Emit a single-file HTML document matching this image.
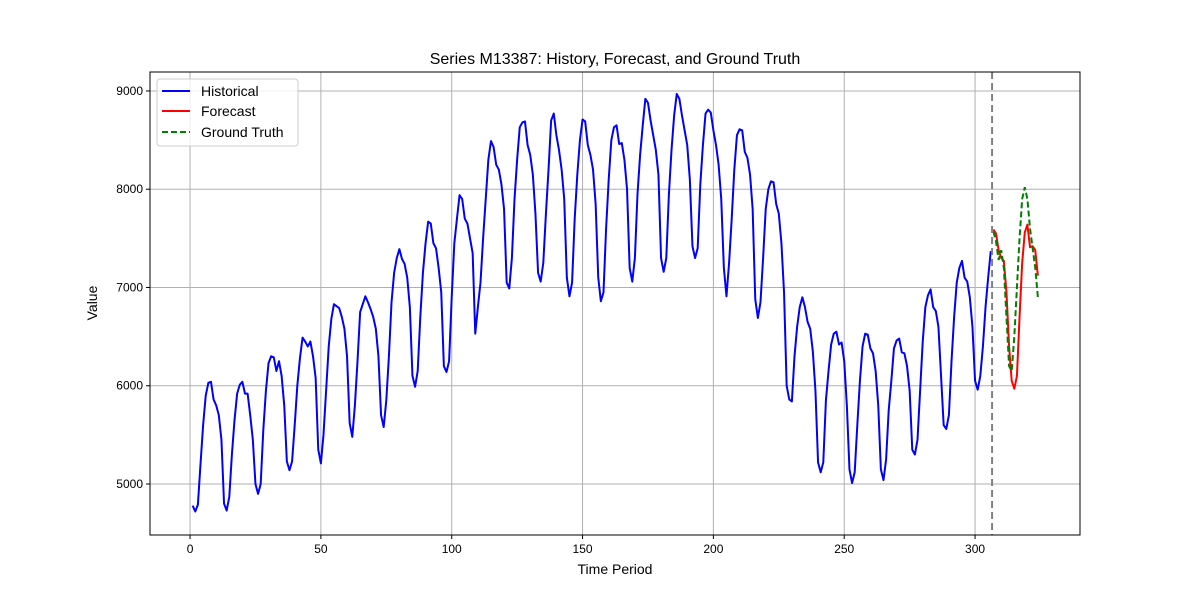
<!DOCTYPE html>
<html><head><meta charset="utf-8"><style>
html,body{margin:0;padding:0;background:#fff}
svg{display:block;font-family:"Liberation Sans","DejaVu Sans",sans-serif}
</style></head><body>
<svg id="chart" width="1200" height="600" viewBox="0 0 1200 600">
<rect width="1200" height="600" fill="#fff"/>
<g id="grid"></g>
<g id="series"></g>
<rect x="150" y="72" width="930" height="463" fill="none" stroke="#000" stroke-width="1"/>
<g id="ticks"></g>
<text x="615" y="64" text-anchor="middle" font-size="16">Series M13387: History, Forecast, and Ground Truth</text>
<text x="615" y="574" text-anchor="middle" font-size="14">Time Period</text>
<text x="97" y="303" text-anchor="middle" font-size="14" transform="rotate(-90 97 303)">Value</text>
<g>
<rect x="157" y="79" width="141" height="67" rx="3" fill="#fff" fill-opacity="0.8" stroke="#ccc"/>
<line x1="162" y1="91" x2="190" y2="91" stroke="#0000ff" stroke-width="2"/>
<text x="201" y="96" font-size="14">Historical</text>
<line x1="162" y1="111" x2="190" y2="111" stroke="#ff0000" stroke-width="2"/>
<text x="201" y="116" font-size="14">Forecast</text>
<line x1="162" y1="132" x2="190" y2="132" stroke="#008000" stroke-width="2" stroke-dasharray="6,3"/>
<text x="201" y="137" font-size="14">Ground Truth</text>
</g>
</svg>
<script>
const historical = [4780,4720,4790,5200,5600,5900,6030,6040,5860,5800,5700,5450,4800,4730,4870,5300,5650,5920,6010,6040,5920,5920,5700,5450,5000,4900,5000,5550,5950,6230,6300,6290,6150,6250,6100,5800,5230,5140,5230,5600,6000,6280,6490,6450,6400,6450,6300,6080,5350,5210,5500,5950,6400,6680,6830,6810,6790,6700,6580,6300,5620,5480,5800,6250,6750,6830,6910,6850,6780,6700,6580,6300,5700,5580,5850,6300,6850,7150,7300,7390,7290,7240,7100,6800,6100,5990,6150,6700,7150,7450,7670,7650,7450,7400,7200,6950,6200,6140,6250,6900,7450,7700,7940,7900,7700,7650,7500,7350,6530,6800,7050,7500,7900,8300,8490,8430,8250,8200,8050,7800,7050,6990,7300,7900,8300,8630,8680,8690,8450,8350,8150,7750,7150,7060,7250,7750,8200,8700,8770,8550,8400,8200,7900,7100,6910,7050,7700,8150,8500,8710,8690,8450,8350,8200,7850,7100,6860,6950,7600,8100,8500,8630,8650,8460,8470,8300,8000,7200,7060,7300,7950,8350,8650,8920,8880,8700,8550,8400,8150,7300,7160,7300,7950,8400,8750,8970,8920,8750,8600,8450,8100,7420,7300,7400,8050,8450,8770,8810,8780,8600,8450,8250,7900,7200,6910,7250,7700,8200,8550,8610,8600,8380,8320,8150,7800,6880,6690,6850,7300,7800,8000,8080,8070,7850,7750,7450,6950,6000,5860,5840,6300,6600,6800,6900,6800,6650,6580,6350,5950,5220,5120,5220,5850,6150,6420,6530,6550,6420,6440,6250,5800,5150,5010,5120,5600,6050,6400,6530,6520,6380,6330,6150,5800,5150,5040,5250,5750,6050,6380,6460,6480,6340,6330,6200,5950,5350,5300,5450,5950,6450,6800,6920,6980,6800,6760,6600,6100,5600,5560,5700,6250,6700,7050,7200,7270,7100,7060,6900,6600,6050,5960,6100,6400,6800,7100,7370];
const histStart = 1;
const forecast = [7590,7550,7380,7300,7270,6950,6400,6050,5970,6100,6700,7250,7560,7640,7410,7420,7380,7120];
const groundTruth = [7570,7470,7280,7380,7200,6700,6200,6150,6500,7000,7500,7900,8020,7900,7600,7400,7200,6900];
const forecastStart = 307;
const splitPoint = 307;
const xTicks = [0,50,100,150,200,250,300];
const yTicks = [5000,6000,7000,8000,9000];

const L=150,R=1080,T=72,B=535;
const xMin=-15.3,xMax=340.1,yMin=4481,yMax=9193;
const xs=v=>L+(v-xMin)/(xMax-xMin)*(R-L);
const ys=v=>B-(v-yMin)/(yMax-yMin)*(B-T);
const NS='http://www.w3.org/2000/svg';
const grid=document.getElementById('grid'),ticks=document.getElementById('ticks'),series=document.getElementById('series');
function mk(tag,attrs,parent){const e=document.createElementNS(NS,tag);for(const k in attrs)e.setAttribute(k,attrs[k]);parent.appendChild(e);return e;}
xTicks.forEach(t=>{
  const x=xs(t);
  const g=mk('line',{x1:x,y1:T,x2:x,y2:B,stroke:'#b0b0b0','stroke-width':1},grid);
  
  
  const tk=mk('line',{x1:x,y1:B,x2:x,y2:B+4,stroke:'#000'},ticks);
  
  
  const tx=mk('text',{x:x,y:B+18,'text-anchor':'middle','font-size':12},ticks);
  tx.textContent=t;
  
  
});
yTicks.forEach(t=>{
  const y=ys(t);
  const g=mk('line',{x1:L,y1:y,x2:R,y2:y,stroke:'#b0b0b0','stroke-width':1},grid);
  
  
  const tk=mk('line',{x1:L-4,y1:y,x2:L,y2:y,stroke:'#000'},ticks);
  
  
  const tx=mk('text',{x:L-7,y:y+4,'text-anchor':'end','font-size':12},ticks);
  tx.textContent=t;
  
  
});
function pts(arr,start){return arr.map((v,i)=>xs(start+i).toFixed(2)+','+ys(v).toFixed(2)).join(' ');}
const h=mk('polyline',{points:pts(historical,histStart),fill:'none',stroke:'#0000ff','stroke-width':2,'stroke-linejoin':'round'},series);


const f=mk('polyline',{points:pts(forecast,forecastStart),fill:'none',stroke:'#ff0000','stroke-width':2,'stroke-linejoin':'round'},series);


const gt=mk('polyline',{points:pts(groundTruth,forecastStart),fill:'none',stroke:'#008000','stroke-width':2,'stroke-dasharray':'6,3'},series);


const sx=xs(splitPoint-0.5);
const sp=mk('line',{x1:sx,y1:T,x2:sx,y2:B,stroke:'#808080','stroke-width':2,'stroke-dasharray':'7,4'},series);


</script>
</body></html>
